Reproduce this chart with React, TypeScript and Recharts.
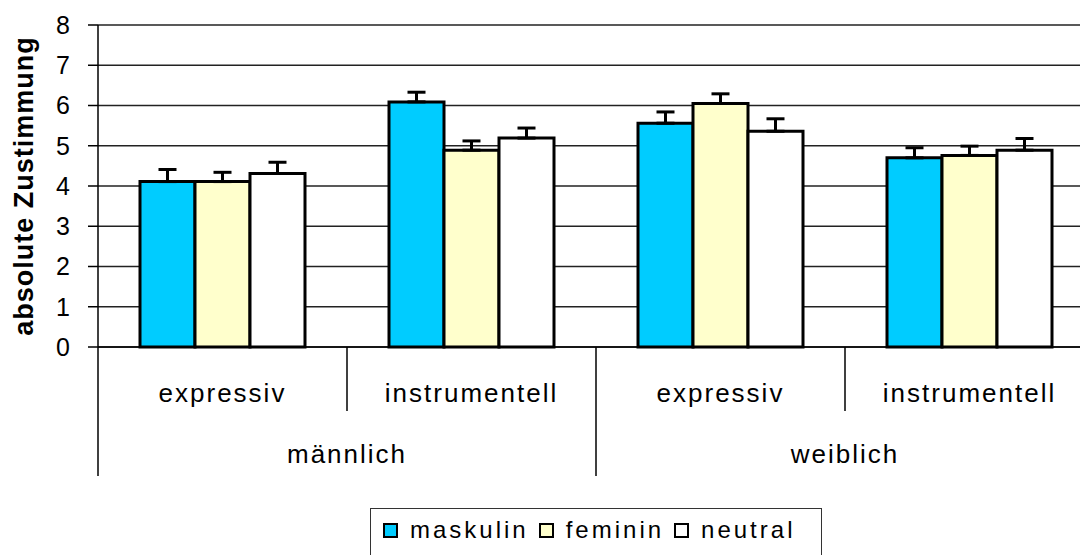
import React from "react";
import {
  BarChart,
  Bar,
  XAxis,
  YAxis,
  CartesianGrid,
  ErrorBar,
  Legend,
  Label,
} from "recharts";

const subLabels = ["expressiv", "instrumentell", "expressiv", "instrumentell"];
const groupLabels = ["männlich", "männlich", "weiblich", "weiblich"];
const maskulin = [4.11, 6.09, 5.56, 4.7];
const feminin = [4.11, 4.89, 6.05, 4.76];
const neutral = [4.31, 5.19, 5.36, 4.89];
const maskulinErr = [0.3, 0.24, 0.28, 0.25];
const femininErr = [0.23, 0.23, 0.24, 0.23];
const neutralErr = [0.28, 0.25, 0.31, 0.29];
const yTicks = [0, 1, 2, 3, 4, 5, 6, 7, 8];

const series = [
  { key: "maskulin", color: "#00CCFF" },
  { key: "feminin", color: "#FFFFCC" },
  { key: "neutral", color: "#FFFFFF" },
];

const data = subLabels.map((sub, i) => ({
  sub,
  group: groupLabels[i],
  maskulin: maskulin[i],
  feminin: feminin[i],
  neutral: neutral[i],
  maskulinErr: [0, maskulinErr[i]],
  femininErr: [0, femininErr[i]],
  neutralErr: [0, neutralErr[i]],
}));

const font = "'Liberation Sans', Arial, sans-serif";

const CategoryTick = (props: any) => {
  const { x, y, payload, width } = props;
  const n = subLabels.length;
  const i = payload.index ?? props.index;
  const half = width / (2 * n);
  const startsGroup = i === 0 || groupLabels[i] !== groupLabels[i - 1];
  let count = 1;
  while (i + count < n && groupLabels[i + count] === groupLabels[i]) count++;
  return (
    <g>
      <line
        x1={x - half}
        y1={y}
        x2={x - half}
        y2={y + (startsGroup ? 129 : 64)}
        stroke="#000"
        strokeWidth={1.5}
      />
      {i === n - 1 && (
        <line x1={x + half} y1={y} x2={x + half} y2={y + 129} stroke="#000" strokeWidth={1.5} />
      )}
      <text
        x={x}
        y={y + 55}
        textAnchor="middle"
        fontSize={26}
        letterSpacing={2}
        fontFamily={font}
        fill="#000"
      >
        {payload.value}
      </text>
      {startsGroup && (
        <text
          x={x - half + count * half}
          y={y + 116}
          textAnchor="middle"
          fontSize={26}
          letterSpacing={2}
          fontFamily={font}
          fill="#000"
        >
          {groupLabels[i]}
        </text>
      )}
    </g>
  );
};

const YTitle = (props: any) => {
  const { viewBox } = props;
  const cy = viewBox.y + viewBox.height / 2;
  return (
    <text
      x={33}
      y={cy}
      transform={`rotate(-90, 33, ${cy})`}
      textAnchor="middle"
      fontSize={27}
      fontWeight="bold"
      letterSpacing={1}
      fontFamily={font}
      fill="#000"
    >
      absolute Zustimmung
    </text>
  );
};

const LegendBox = () => (
  <div
    style={{
      border: "1.5px solid #333",
      height: 50,
      boxSizing: "border-box",
      display: "flex",
      alignItems: "center",
      paddingLeft: 12,
      paddingBottom: 6,
      fontFamily: font,
      fontSize: 24,
      letterSpacing: 3,
      color: "#000",
      background: "#fff",
    }}
  >
    {series.map((s) => (
      <div key={s.key} style={{ display: "flex", alignItems: "center", marginRight: 10 }}>
        <div
          style={{
            width: 15,
            height: 15,
            boxSizing: "border-box",
            border: "2.5px solid #000",
            background: s.color,
            marginRight: 12,
          }}
        />
        <span>{s.key}</span>
      </div>
    ))}
  </div>
);

const App = () => {
  return (
    <div
      style={{
        position: "absolute",
        left: 0,
        top: 0,
        width: 1080,
        height: 555,
        overflow: "hidden",
        background: "#fff",
      }}
    >
      <BarChart
        width={1094}
        height={555}
        data={data}
        margin={{ top: 25, right: 0, left: 0, bottom: 28 }}
        barCategoryGap={42}
        barGap={0}
      >
        <CartesianGrid vertical={false} stroke="#222" strokeWidth={1.3} />
        <YAxis
          width={98}
          domain={[0, 8]}
          ticks={yTicks}
          interval={0}
          tickSize={10}
          tickMargin={18}
          axisLine={{ stroke: "#000", strokeWidth: 1.5 }}
          tickLine={{ stroke: "#000", strokeWidth: 1.5 }}
          tick={{ fontSize: 25, fill: "#000", fontFamily: font }}
        >
          <Label content={<YTitle />} />
        </YAxis>
        <XAxis
          dataKey="sub"
          height={130}
          interval={0}
          tickSize={0}
          tickMargin={0}
          tickLine={false}
          axisLine={{ stroke: "#000", strokeWidth: 1.5 }}
          tick={<CategoryTick />}
        />
        <Legend
          content={<LegendBox />}
          wrapperStyle={{ top: 508, left: 370, bottom: "auto", width: 452, height: 50 }}
        />
        {series.map((s) => (
          <Bar
            key={s.key}
            dataKey={s.key}
            fill={s.color}
            stroke="#000"
            strokeWidth={3}
            isAnimationActive={false}
          >
            <ErrorBar
              dataKey={`${s.key}Err`}
              direction="y"
              width={9}
              stroke="#000"
              strokeWidth={3}
            />
          </Bar>
        ))}
      </BarChart>
    </div>
  );
};

export default App;
